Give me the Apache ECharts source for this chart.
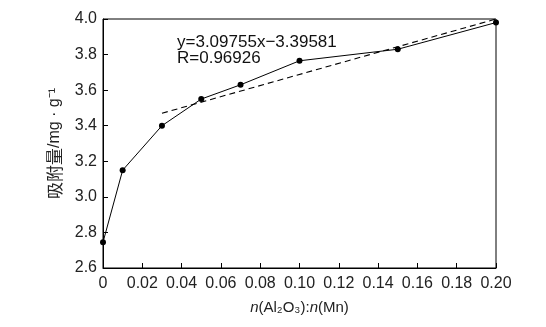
<!DOCTYPE html>
<html><head><meta charset="utf-8">
<script src="https://cdn.jsdelivr.net/npm/echarts@6/dist/echarts.min.js"></script>
<style>html,body{margin:0;padding:0;background:#fff}#c{width:546px;height:327px}</style>
</head><body><div id="c"></div>
<script>
const ratioX = [0, 0.01, 0.03, 0.05, 0.07, 0.10, 0.15, 0.20];
const adsorption = [2.745, 3.15, 3.40, 3.55, 3.63, 3.765, 3.83, 3.98];
const fitX = [0.03, 0.20];
const fitY = [3.47, 4.00];
const eqText = ['y=3.09755x\u22123.39581', 'R=0.96926'];
const yTicks = [2.6, 4.0, 0.2];
const xTicks = [0, 0.20, 0.02];

const font = '"Liberation Sans", Arial, "Noto Sans CJK SC", sans-serif';
const cjk = '"Noto Sans CJK SC", sans-serif';
const chart = echarts.init(document.getElementById('c'), null, {renderer: 'canvas'});
chart.setOption({
  animation: false,
  backgroundColor: '#fff',
  grid: {left: 103, top: 19, right: 50, bottom: 59, show: true, borderColor: '#000', borderWidth: 1, backgroundColor: 'transparent'},
  xAxis: {
    type: 'value', min: xTicks[0], max: xTicks[1], interval: xTicks[2],
    axisLine: {lineStyle: {color: '#000', width: 1}},
    axisTick: {inside: true, length: 5, lineStyle: {color: '#000'}},
    splitLine: {show: false},
    axisLabel: {color: '#222', fontSize: 16, fontFamily: font, margin: 8,
      formatter: v => v === 0 ? '0' : v.toFixed(2)},
    name: '{i|n}(Al\u2082O\u2083):{i|n}(Mn)', nameLocation: 'middle', nameGap: 32,
    nameTextStyle: {color: '#222', fontSize: 15, fontFamily: font,
      rich: {i: {fontStyle: 'italic', fontSize: 15, fontFamily: font, color: '#222'}}}
  },
  yAxis: {
    type: 'value', min: yTicks[0], max: yTicks[1], interval: yTicks[2],
    axisLine: {lineStyle: {color: '#000', width: 1}},
    axisTick: {inside: true, length: 5, lineStyle: {color: '#000'}},
    splitLine: {show: false},
    axisLabel: {color: '#222', fontSize: 16, fontFamily: font, margin: 6,
      formatter: v => v.toFixed(1)},
    name: '{c|吸附量}/mg \u00B7 g\u207B\u00B9', nameLocation: 'middle', nameGap: 40, nameRotate: 90,
    nameTextStyle: {color: '#222', fontSize: 16, fontFamily: font,
      rich: {c: {fontSize: 17, fontFamily: cjk, color: '#222'}}}
  },
  series: [
    {type: 'line', data: ratioX.map((x, i) => [x, adsorption[i]]),
     symbol: 'circle', symbolSize: 6, clip: false,
     lineStyle: {color: '#000', width: 1}, itemStyle: {color: '#000'}},
    {type: 'line', data: fitX.map((x, i) => [x, fitY[i]]),
     symbol: 'none', clip: false,
     lineStyle: {color: '#000', width: 1.1, type: [6, 4]}}
  ],
  graphic: [
    {type: 'text', left: 177, top: 34,
     style: {text: eqText.join('\n'), fill: '#111', font: '17px ' + font, lineHeight: 16}}
  ]
});
</script></body></html>
